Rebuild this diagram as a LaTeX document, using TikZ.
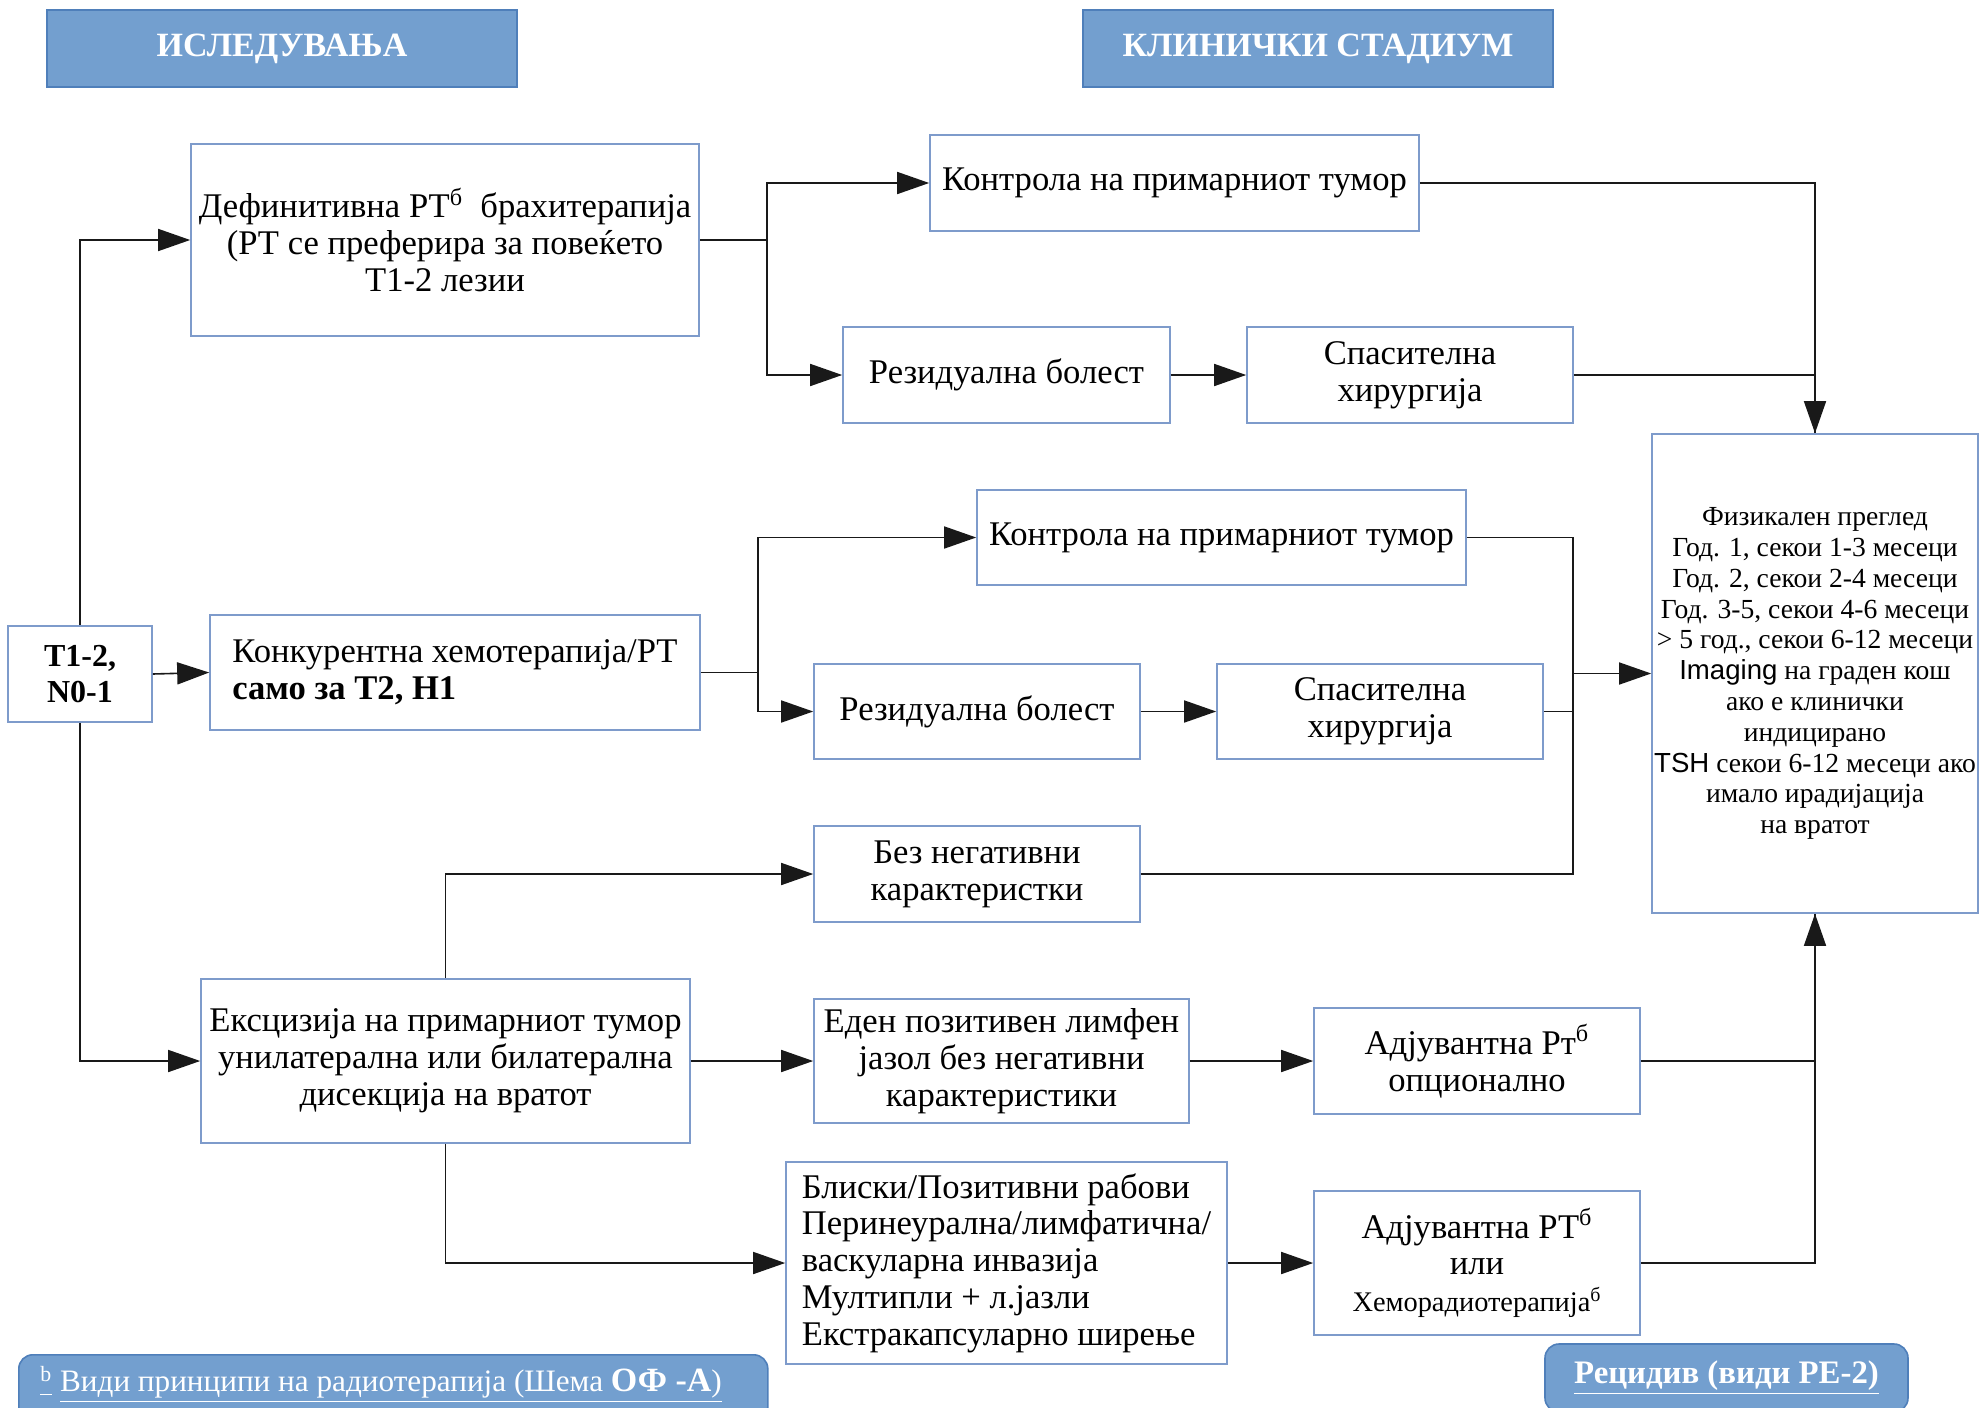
\documentclass[tikz,border=0pt]{standalone}
\usepackage{fontspec}
\setmainfont{Liberation Serif}
\newfontfamily\arialfont{Liberation Sans}
\usetikzlibrary{arrows.meta}
\definecolor{hdrblue}{HTML}{739FCF}
\definecolor{hdredge}{HTML}{4F7FBA}
\definecolor{boxedge}{HTML}{7E9BCB}

\begin{document}
\begin{tikzpicture}[x=0.5pt, y=-0.5pt, >={Triangle[length=16pt,width=11pt]},
  hdr/.style={fill=hdrblue, draw=hdredge, line width=0.8pt, text=white,
    inner sep=0pt, font=\fontsize{17}{20}\selectfont\bfseries},
  stepbox/.style={draw=boxedge, line width=0.8pt, fill=white, align=center,
    inner sep=0pt, font=\fontsize{17.3}{18.4}\selectfont},
  link/.style={draw=black!90, line width=0.8pt}]
  \useasboundingbox (0,0) rectangle (1982,1408);

  % column headers
  \node[hdr, minimum width=235pt, minimum height=38.5pt] (hdrL) at (282,48.5) {ИСЛЕДУВАЊА};
  \node[hdr, minimum width=235pt, minimum height=38.5pt] (hdrR) at (1318,48.5) {КЛИНИЧКИ СТАДИУМ};

  % start
  \node[stepbox, minimum width=72pt, minimum height=48pt,
        font=\fontsize{16}{18.4}\selectfont] (tn) at (80,674)
      {\bfseries Т1-2,\\ \bfseries N0-1};

  % upper branch
  \node[stepbox, minimum width=254pt, minimum height=96pt] (defin) at (445,240)
      {Дефинитивна РТ\textsuperscript{б}\ \ брахитерапија\\ (РТ се преферира за повеќето\\ Т1-2 лезии};
  \node[stepbox, minimum width=244.5pt, minimum height=48pt] (ctrl1) at (1174.5,183)
      {Контрола на примарниот тумор};
  \node[stepbox, minimum width=163.5pt, minimum height=48pt] (resid1) at (1006.5,375)
      {Резидуална болест};
  \node[stepbox, minimum width=163pt, minimum height=48pt] (salv1) at (1410,375)
      {Спасителна\\ хирургија};

  % middle branch
  \node[stepbox, align=left, minimum width=245pt, minimum height=57.5pt] (conc) at (455,672.5)
      {Конкурентна хемотерапија/РТ\\ \bfseries само за Т2, Н1};
  \node[stepbox, minimum width=244.5pt, minimum height=47.5pt] (ctrl2) at (1221.5,537.5)
      {Контрола на примарниот тумор};
  \node[stepbox, minimum width=163pt, minimum height=47.5pt] (resid2) at (977,711.5)
      {Резидуална болест};
  \node[stepbox, minimum width=163pt, minimum height=47.5pt] (salv2) at (1380,711.5)
      {Спасителна\\ хирургија};

  % lower branch
  \node[stepbox, minimum width=163pt, minimum height=48pt] (noneg) at (977,874)
      {Без негативни\\ карактеристки};
  \node[stepbox, minimum width=244.5pt, minimum height=82pt] (excis) at (445.5,1061)
      {Ексцизија на примарниот тумор\\ унилатерална или билатерална\\ дисекција на вратот};
  \node[stepbox, minimum width=187.5pt, minimum height=62pt] (onepos) at (1001.5,1061)
      {Еден позитивен лимфен\\ јазол без негативни\\ карактеристики};
  \node[stepbox, minimum width=163pt, minimum height=53pt] (adj1) at (1477,1061)
      {Адјувантна Рт\textsuperscript{б}\\ опционално};
  \node[stepbox, align=left, minimum width=220.5pt, minimum height=101pt] (close) at (1006.5,1263)
      {Блиски/Позитивни рабови\\ Перинеурална/лимфатична/\\ васкуларна инвазија\\
       Мултипли + л.јазли\\ Екстракапсуларно ширење};
  \node[stepbox, minimum width=163pt, minimum height=72pt] (adj2) at (1477,1263)
      {Адјувантна РТ\textsuperscript{б}\\ или\\ {\fontsize{14.2}{15}\selectfont Хеморадиотерапија\textsuperscript{б}}};

  % follow-up
  \node[stepbox, minimum width=163pt, minimum height=239.5pt,
        font=\fontsize{13.8}{15.4}\selectfont] (follow) at (1815,673.5)
      {Физикален преглед\\ Год. 1, секои 1-3 месеци\\ Год. 2, секои 2-4 месеци\\
       Год. 3-5, секои 4-6 месеци\\ > 5 год., секои 6-12 месеци\\
       {\arialfont Imaging} на граден кош\\ ако е клинички\\ индицирано\\
       {\arialfont TSH} секои 6-12 месеци ако\\ имало ирадијација\\ на вратот};

  % footer links
  \node[hdr, rounded corners=7pt, minimum width=374.5pt, minimum height=33pt,
        anchor=north west] (note) at (18,1354) {};
  \node[text=white, anchor=west, inner sep=0pt, font=\fontsize{15.6}{18}\selectfont] (notetext) at (40,1384)
      {\underline{\textsuperscript{b}} \underline{Види принципи на радиотерапија (Шема
       {\fontsize{17}{20}\selectfont\bfseries ОФ -А})}};
  \node[hdr, rounded corners=7pt, minimum width=181.5pt, minimum height=34pt,
        font=\fontsize{16.4}{20}\selectfont\bfseries] (recur) at (1726.5,1378)
      {\underline{Рецидив (види РЕ-2)}};

  % connectors
  \coordinate (j1) at (767,240);
  \coordinate (j2) at (758,672.5);
  \coordinate (j3) at (1573,673.5);

  \draw[link,->] (tn.north) |- (defin.west);
  \draw[link,->] (tn.east) -- (conc.west);
  \draw[link,->] (tn.south) |- (excis.west);

  \draw[link] (defin.east) -- (j1);
  \draw[link,->] (j1) |- (ctrl1.west);
  \draw[link,->] (j1) |- (resid1.west);
  \draw[link,->] (resid1) -- (salv1);
  \draw[link,->] (ctrl1.east) -| (follow.north);
  \draw[link] (salv1.east) -| (follow.north);

  \draw[link] (conc.east) -- (j2);
  \draw[link,->] (j2) |- (ctrl2.west);
  \draw[link,->] (j2) |- (resid2.west);
  \draw[link,->] (resid2) -- (salv2);
  \draw[link] (ctrl2.east) -| (j3);
  \draw[link] (salv2.east) -| (j3);
  \draw[link] (noneg.east) -| (j3);
  \draw[link,->] (j3) -- (follow.west);

  \draw[link,->] (excis.north) |- (noneg.west);
  \draw[link,->] (excis.east) -- (onepos.west);
  \draw[link,->] (excis.south) |- (close.west);
  \draw[link,->] (onepos) -- (adj1);
  \draw[link,->] (close) -- (adj2);
  \draw[link,->] (adj2.east) -| (follow.south);
  \draw[link] (adj1.east) -| (follow.south);
\end{tikzpicture}
\end{document}
